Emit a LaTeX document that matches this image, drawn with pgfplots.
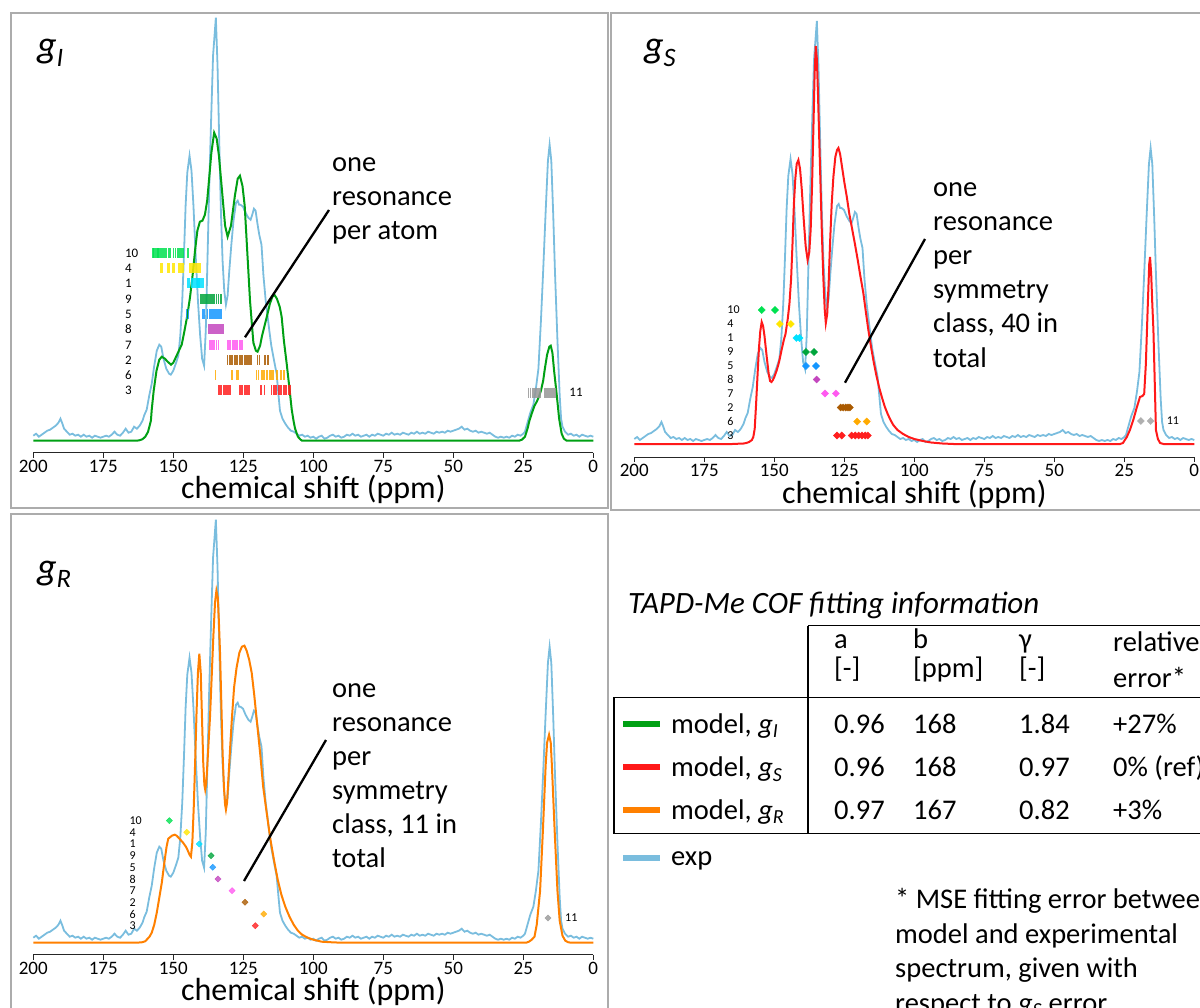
\documentclass[border=0pt]{standalone}
\usepackage{fontspec}
\setmainfont{Carlito}
\usepackage{pgfplots}
\usepackage{pgfplotstable}
\pgfplotsset{compat=1.18}
\definecolor{cexp}{RGB}{122,189,222}
\definecolor{cgI}{RGB}{0,160,20}
\definecolor{cgS}{RGB}{255,25,25}
\definecolor{cgR}{RGB}{255,128,0}
\definecolor{m10}{RGB}{0,225,80}
\definecolor{m4}{RGB}{255,230,0}
\definecolor{m1}{RGB}{0,225,255}
\definecolor{m9}{RGB}{0,165,60}
\definecolor{m5}{RGB}{20,150,255}
\definecolor{m8}{RGB}{195,70,190}
\definecolor{m7}{RGB}{255,90,240}
\definecolor{m2}{RGB}{170,90,0}
\definecolor{m6}{RGB}{255,170,0}
\definecolor{m3}{RGB}{255,30,30}
\definecolor{m11}{RGB}{150,150,150}
\definecolor{m11b}{RGB}{175,175,175}
\definecolor{framec}{RGB}{172,172,172}
\newcommand{\myfs}[2]{\fontsize{#1}{#2}\selectfont}

\pgfplotstableread{
x y
200 5
199 7
198 4
197 6
196 8
195 10
194 11
193 13
192 15
191 18
190.3 22
189.6 17
189 12
188 9
187 6
186 7
185 5
184 6
183 4
182 6
181 4
180 5
179 3
178 5
177 4
176 3
175 4
174 5
173 4
172 6
171 9
170 6
169 5
168 8
167 12
166 8
165 9
164 14
163 12
162 15
161 20
160.3 26
159.5 31
158.6 45
157.7 57
156.8 75
155.9 90
155 96
154.3 94
153.5 82
152.5 72
151.5 67
150.9 66
150 70
149 78
148.2 85
147.5 105
146.8 140
146.2 185
145.6 235
145 268
144.2 285
143.5 270
142.8 235
142 185
141.2 140
140.4 105
139.7 82
139 75
138.4 110
137.8 180
137.2 250
136.5 320
135.8 385
134.8 423
134.2 375
133.6 300
133 230
132.4 180
131.8 150
131.2 136
130.6 145
130 170
129.3 195
128.5 220
127.6 238
127 240
126.5 236
126 236
125.1 234
124.2 228
123.2 223
122.4 221
121.8 226
121.2 232
120.6 230
120 218
119.3 206
118.5 196
117.8 165
117 140
116.3 124
115.7 110
115 95
114 80
113.1 67
112.4 45
111.9 30
111 22
110 17
109 13
108 10
107 9
106 7
105 5
104 6
103 4
102 5
101 3
100 4
99 2
98 4
97 5
96 2
95 3
94 5
93 6
92 4
91 5
90 3
89 4
88 6
87 5
86 7
85 5
84 6
83 4
82 5
81 6
80 4
79 6
78 5
77 7
76 6
75 5
74 7
73 6
72 8
71 6
70 7
69 6
68 8
67 7
66 6
65 8
64 7
63 9
62 7
61 8
60 7
59 9
58 8
57 7
56 9
55 8
54 9
53 8
52 10
51 9
50 10
49 11
48 12
47 14
46 11
45 12
44 10
43 9
42 10
41 8
40 9
39 8
38 7
37 8
36 6
35 4
34 3
33 4
32 3
31 4
30 3
29 5
28 4
27 6
26 5
25 7
24.4 9
23.5 18
22.5 28
21.4 36
20.5 52
19.6 72
18.7 120
17.9 170
17 230
16.2 280
15.6 296
15 280
14.3 225
13.7 170
12.8 100
12 45
11.5 22
11 14
10.1 9
9 6
8 7
7 5
6 6
5 4
4 6
3 5
2 4
1 5
0 4
}\expdata

\pgfplotstableread{
x y
200 0
163 0
162 0.5
161 1.5
160 4
159 9
158 20
157.7 31
157 50
156 70
155 81
154.1 84
153 82
152 79
150.8 76
150 78
149 84
148 90
147 96
146 110
145 125
144 144
143 168
142.2 191
141.4 210
140.5 219
139.6 220
138.7 226
137.9 240
137.2 262
136.4 288
135.4 308
134.5 302
133.7 285
132.6 250
131.5 215
130.6 204
129.4 215
128 245
127 262
126.2 265
125.3 255
124.5 235
123.8 200
122.6 140
121.4 98
120.5 90
119.9 89
119 95
118.3 105
117.4 115
116.6 124
115.5 137
114.6 144
113.9 146
113 142
112 134
111.3 124
110.5 100
109.5 77
108.5 52
107.7 31
107 19
106.5 12
105.5 4
104.5 1
104 0
26.5 0
25.5 1
24.4 4
23.5 12
22.8 20
22 27
21 35
20.2 39
19.4 44
18.7 50
17.9 60
17.3 72
16.5 86
15.7 94
15.2 95
14.6 88
14 70
13.1 47
12.2 22
11.3 7
10.5 2
9.5 0
0 0
}\gIdata

\pgfplotstableread{
x y
200 0
165 0
161 0.5
160 1
159 2
158 4
157.5 7
157 15
156.5 40
156 68
155.5 95
155 113
154.5 122
154 118
153.5 108
152.7 87
152 70
151.5 63
151 62
150.5 64
150 67
149.1 74
148.3 82
147.4 94
146.6 104
146 110
145.2 125
144.6 140
144 165
143.5 200
143 240
142.5 265
142 280
141.4 284
140.8 275
140.2 255
139.5 225
138.8 198
138.1 184
137.5 192
137 215
136.5 260
136 320
135.6 370
135.2 398
134.8 385
134.4 350
134 310
133.5 260
133 210
132.5 167
132 135
131.6 121
131.1 130
130.6 160
130.1 200
129.5 240
128.9 267
128.2 287
127.6 294
127.1 296
126.5 290
125.8 277
125 262
124.1 247
123.2 230
122.2 215
121.2 200
120.2 184
119.2 167
118.2 151
117.3 132
116.4 114
115.5 98
114.5 82
113.5 68
112.5 56
111.5 46
110.5 37
109.5 30
108.5 24
107.5 19
106 14
104 10
102 7
100 5
97 3
94 1.5
90 0.5
86 0
26.5 0
25.5 1
24.1 7
23 14
21.8 24
20.6 36
19.4 47
18.5 48
17.9 50
17.3 80
16.6 140
16.1 180
15.8 187
15.4 170
15 140
14.6 114
14.2 70
13.7 14
13 5
12.2 1
11 0
0 0
}\gSdata

\pgfplotstableread{
x y
200 0
163 0
161 0.5
160 1.5
159.5 3
158.5 6
157.7 10
156.8 18
155.9 30
155 45
154.1 60
153.2 80
152.4 96
151.8 104
150.5 107
149.5 108
148.8 107
147.8 104
146.5 100
145.5 96
144.8 92
144.2 88
143.7 86
143.2 100
142.7 135
142.2 180
141.7 230
141.2 270
140.7 289
140.2 270
139.8 230
139.3 180
138.9 158
138.6 153
138.2 160
137.9 175
137.4 200
136.9 225
136.3 265
135.7 306
135.1 340
134.6 352
134.1 345
133.7 320
133.3 289
132.8 235
132.4 190
131.9 155
131.5 138
131.2 133
130.8 140
130.3 165
129.7 195
129.1 223
128.3 255
127.4 275
126.4 290
125.5 296
124.6 297
123.8 292
122.9 283
122 270
121.1 248
120.2 223
119 190
117.9 156
116.6 129
115.3 103
114 82
112.7 63
111.4 48
110 36
108.5 26
107 18
105.5 12
104 8
102 5
100 3
97 1
94 0.5
90 0
24 0
23 1
22 3
21 6
20.2 18
19 52
18 112
17 178
16.5 200
15.8 208
15.2 200
14.8 178
13.8 112
12.8 52
12 22
11 7
10 2
9 0.5
8 0
0 0
}\gRdata

\pgfplotsset{
  panelax/.style={
    x=2.8pt, y=1pt, xmin=0, xmax=200, x dir=reverse,
    axis x line*=bottom, axis y line=none,
    xtick={0,25,50,75,100,125,150,175,200}, tick align=outside, major tick length=5pt,
    tick style={black!85, line width=1pt},
    axis line style={black!85, line width=1pt},
    xticklabel style={font=\myfs{19}{19}, inner sep=2pt},
    /pgf/number format/assume math mode=true,
    clip=false, anchor=south west, scale only axis},
  bars/.style={only marks, mark=|, mark size=5pt, mark options={line width=1.5pt, opacity=0.85}},
  dia/.style={only marks, mark=square*, mark size=2.5pt, mark options={rotate=45}},
  dib/.style={only marks, mark=square*, mark size=2.2pt, mark options={rotate=45, opacity=0.8}},
}

\begin{document}
\begin{tikzpicture}
\useasboundingbox (0pt,0pt) rectangle (1200pt,-1008pt);
\draw[framec, line width=2pt] (11pt,-13pt) rectangle (608pt,-508pt);
\draw[framec, line width=2pt] (611pt,-13pt) rectangle (1215pt,-510pt);
\draw[framec, line width=2pt] (11pt,-514pt) rectangle (608pt,-1020pt);

% ---------------- g_I panel
\begin{axis}[panelax, at={(33.3pt,-452.7pt)}, ymin=-12, ymax=428]
\addplot[cexp, line width=1.8pt] table {\expdata};
\addplot[cgI, line width=2pt] table {\gIdata};
\addplot[bars, m10] coordinates {(157.3,187.4)(156.9,187.4)(156.4,187.4)(155.9,187.4)(155.5,187.4)(155.1,187.4)(154.6,187.4)(154.0,187.4)(153.5,187.4)(152.9,187.4)(152.4,187.4)(151.8,187.4)(151.2,187.4)(150.0,187.4)(149.2,187.4)(148.4,187.4)(147.6,187.4)(146.9,187.4)(146.3,187.4)(145.0,187.4)(144.5,187.4)};
\addplot[bars, m4] coordinates {(154.4,172.4)(153.9,172.4)(152.0,172.4)(151.5,172.4)(150.3,172.4)(149.8,172.4)(148.1,172.4)(147.6,172.4)(147.1,172.4)(146.6,172.4)(144.0,172.4)(143.5,172.4)(143.0,172.4)(142.5,172.4)(142.0,172.4)(141.5,172.4)(141.0,172.4)(140.5,172.4)};
\addplot[bars, m1] coordinates {(145.0,157.4)(144.4,157.4)(143.5,157.4)(143.0,157.4)(142.5,157.4)(142.0,157.4)(141.6,157.4)(141.2,157.4)(140.8,157.4)(140.4,157.4)(140.0,157.4)(139.6,157.4)(139.3,157.4)};
\addplot[bars, m9] coordinates {(140.2,141.7)(139.7,141.7)(139.2,141.7)(138.7,141.7)(138.2,141.7)(137.7,141.7)(137.2,141.7)(136.7,141.7)(136.2,141.7)(135.7,141.7)(135.2,141.7)(134.5,141.7)(133.8,141.7)(133.2,141.7)(132.7,141.7)};
\addplot[bars, m5] coordinates {(145.2,126.7)(144.6,126.7)(139.5,126.7)(139.0,126.7)(137.7,126.7)(137.1,126.7)(136.5,126.7)(135.9,126.7)(135.3,126.7)(134.7,126.7)(134.1,126.7)(133.5,126.7)(132.9,126.7)};
\addplot[bars, m8] coordinates {(137.5,111.4)(137.0,111.4)(136.5,111.4)(136.0,111.4)(135.5,111.4)(135.0,111.4)(134.5,111.4)(134.0,111.4)(133.5,111.4)(133.0,111.4)(132.5,111.4)(132.0,111.4)};
\addplot[bars, m7] coordinates {(136.9,95.7)(136.2,95.7)(135.4,95.7)(134.6,95.7)(133.9,95.7)(130.7,95.7)(130.1,95.7)(129.5,95.7)(128.9,95.7)(128.3,95.7)(127.6,95.7)(127.0,95.7)(126.4,95.7)(125.8,95.7)(125.2,95.7)};
\addplot[bars, m2] coordinates {(130.6,80.7)(130.0,80.7)(129.4,80.7)(128.8,80.7)(128.2,80.7)(127.6,80.7)(127.0,80.7)(126.4,80.7)(125.8,80.7)(125.2,80.7)(124.6,80.7)(124.0,80.7)(123.4,80.7)(122.8,80.7)(122.2,80.7)(120.0,80.7)(119.2,80.7)(117.2,80.7)(116.1,80.7)};
\addplot[bars, m6] coordinates {(135.0,65.7)(129.0,65.7)(127.3,65.7)(126.7,65.7)(120.2,65.7)(119.6,65.7)(118.4,65.7)(117.6,65.7)(116.6,65.7)(115.4,65.7)(114.8,65.7)(114.2,65.7)(113.0,65.7)(111.6,65.7)(110.4,65.7)};
\addplot[bars, m3] coordinates {(133.9,50.7)(133.3,50.7)(132.7,50.7)(132.1,50.7)(131.5,50.7)(130.9,50.7)(130.3,50.7)(129.7,50.7)(126.4,50.7)(125.8,50.7)(125.2,50.7)(124.6,50.7)(124.0,50.7)(123.4,50.7)(122.8,50.7)(118.7,50.7)(117.4,50.7)(114.9,50.7)(114.3,50.7)(113.7,50.7)(113.1,50.7)(112.5,50.7)(111.9,50.7)(111.3,50.7)(110.7,50.7)(110.1,50.7)(109.5,50.7)(108.9,50.7)(108.3,50.7)};
\addplot[bars, m11] coordinates {(23.2,48)(22.5,48)(21.8,48)(21.1,48)(20.4,48)(19.7,48)(19.0,48)(17.3,48)(16.6,48)(16.0,48)(15.4,48)(14.8,48)(14.2,48)(13.7,48)};
\node[anchor=west, inner sep=0pt, font=\myfs{13}{13}] at (axis cs:167.3,187.4) {10};
\node[anchor=west, inner sep=0pt, font=\myfs{13}{13}] at (axis cs:167.3,172.4) {4};
\node[anchor=west, inner sep=0pt, font=\myfs{13}{13}] at (axis cs:167.3,157.4) {1};
\node[anchor=west, inner sep=0pt, font=\myfs{13}{13}] at (axis cs:167.3,141.7) {9};
\node[anchor=west, inner sep=0pt, font=\myfs{13}{13}] at (axis cs:167.3,126.7) {5};
\node[anchor=west, inner sep=0pt, font=\myfs{13}{13}] at (axis cs:167.3,111.4) {8};
\node[anchor=west, inner sep=0pt, font=\myfs{13}{13}] at (axis cs:167.3,95.7) {7};
\node[anchor=west, inner sep=0pt, font=\myfs{13}{13}] at (axis cs:167.3,80.7) {2};
\node[anchor=west, inner sep=0pt, font=\myfs{13}{13}] at (axis cs:167.3,65.7) {6};
\node[anchor=west, inner sep=0pt, font=\myfs{13}{13}] at (axis cs:167.3,50.7) {3};
\node[anchor=west, inner sep=0pt, font=\myfs{13}{13}] at (axis cs:8.6,48) {11};
\node[font=\myfs{32}{32}, yshift=-37pt] at (rel axis cs:0.5,0) {chemical shift (ppm)};
\end{axis}

% ---------------- g_S panel
\begin{axis}[panelax, at={(634.3pt,-457pt)}, ymin=-13, ymax=431]
\addplot[cexp, line width=1.8pt] table {\expdata};
\addplot[cgS, line width=2pt] table {\gSdata};
\addplot[dia, m10] coordinates {(154.5,134)(149.75,134)};
\addplot[dia, m4] coordinates {(148.0,120)(144.1,120)};
\addplot[dia, m1] coordinates {(142.1,106)(141.0,106)};
\addplot[dia, m9] coordinates {(138.7,92)(135.8,92)};
\addplot[dia, m5] coordinates {(138.7,78)(135.1,78)};
\addplot[dia, m8] coordinates {(134.9,64.5)};
\addplot[dia, m7] coordinates {(131.9,50.5)(128.0,50.5)};
\addplot[dia, m2] coordinates {(126.3,36.5)(125.4,36.5)(124.5,36.5)(123.7,36.5)(123.0,36.5)};
\addplot[dia, m6] coordinates {(120.4,22.5)(117.0,22.5)};
\addplot[dia, m3] coordinates {(127.6,8.5)(125.9,8.5)(122.4,8.5)(121.1,8.5)(119.9,8.5)(118.7,8.5)(117.5,8.5)(116.6,8.5)};
\addplot[dia, m11b] coordinates {(19.1,23)(15.6,23)};
\node[anchor=west, inner sep=0pt, font=\myfs{12}{12}] at (axis cs:166.8,134) {10};
\node[anchor=west, inner sep=0pt, font=\myfs{12}{12}] at (axis cs:166.8,120) {4};
\node[anchor=west, inner sep=0pt, font=\myfs{12}{12}] at (axis cs:166.8,106) {1};
\node[anchor=west, inner sep=0pt, font=\myfs{12}{12}] at (axis cs:166.8,92) {9};
\node[anchor=west, inner sep=0pt, font=\myfs{12}{12}] at (axis cs:166.8,78) {5};
\node[anchor=west, inner sep=0pt, font=\myfs{12}{12}] at (axis cs:166.8,64.5) {8};
\node[anchor=west, inner sep=0pt, font=\myfs{12}{12}] at (axis cs:166.8,50.5) {7};
\node[anchor=west, inner sep=0pt, font=\myfs{12}{12}] at (axis cs:166.8,36.5) {2};
\node[anchor=west, inner sep=0pt, font=\myfs{12}{12}] at (axis cs:166.8,22.5) {6};
\node[anchor=west, inner sep=0pt, font=\myfs{12}{12}] at (axis cs:166.8,8.5) {3};
\node[anchor=west, inner sep=0pt, font=\myfs{12}{12}] at (axis cs:9.9,23) {11};
\node[font=\myfs{32}{32}, yshift=-37pt] at (rel axis cs:0.5,0) {chemical shift (ppm)};
\end{axis}

% ---------------- g_R panel
\begin{axis}[panelax, at={(33.3pt,-954.7pt)}, ymin=-12, ymax=428]
\addplot[cexp, line width=1.8pt] table {\expdata};
\addplot[cgR, line width=2pt] table {\gRdata};
\addplot[dib, m10] coordinates {(151.4,122)};
\addplot[dib, m4] coordinates {(145.2,110.4)};
\addplot[dib, m1] coordinates {(140.7,98.7)};
\addplot[dib, m9] coordinates {(136.5,87)};
\addplot[dib, m5] coordinates {(135.9,75.4)};
\addplot[dib, m8] coordinates {(134.0,63.7)};
\addplot[dib, m7] coordinates {(129.0,52)};
\addplot[dib, m2] coordinates {(124.4,40.4)};
\addplot[dib, m6] coordinates {(117.7,28.7)};
\addplot[dib, m3] coordinates {(120.7,17)};
\addplot[dib, m11] coordinates {(16.2,24.7)};
\node[anchor=west, inner sep=0pt, font=\myfs{12}{12}] at (axis cs:165.7,122) {10};
\node[anchor=west, inner sep=0pt, font=\myfs{12}{12}] at (axis cs:165.7,110.4) {4};
\node[anchor=west, inner sep=0pt, font=\myfs{12}{12}] at (axis cs:165.7,98.7) {1};
\node[anchor=west, inner sep=0pt, font=\myfs{12}{12}] at (axis cs:165.7,87) {9};
\node[anchor=west, inner sep=0pt, font=\myfs{12}{12}] at (axis cs:165.7,75.4) {5};
\node[anchor=west, inner sep=0pt, font=\myfs{12}{12}] at (axis cs:165.7,63.7) {8};
\node[anchor=west, inner sep=0pt, font=\myfs{12}{12}] at (axis cs:165.7,52) {7};
\node[anchor=west, inner sep=0pt, font=\myfs{12}{12}] at (axis cs:165.7,40.4) {2};
\node[anchor=west, inner sep=0pt, font=\myfs{12}{12}] at (axis cs:165.7,28.7) {6};
\node[anchor=west, inner sep=0pt, font=\myfs{12}{12}] at (axis cs:165.7,17) {3};
\node[anchor=west, inner sep=0pt, font=\myfs{12}{12}] at (axis cs:10.1,24.7) {11};
\node[font=\myfs{32}{32}, yshift=-37pt] at (rel axis cs:0.5,0) {chemical shift (ppm)};
\end{axis}

% panel titles
\node[anchor=base west, inner sep=0pt, font=\myfs{38}{38}\itshape] at (37pt,-58pt) {g\textsubscript{I}};
\node[anchor=base west, inner sep=0pt, font=\myfs{38}{38}\itshape] at (644pt,-58pt) {g\textsubscript{S}};
\node[anchor=base west, inner sep=0pt, font=\myfs{38}{38}\itshape] at (37pt,-579pt) {g\textsubscript{R}};

% annotations
\draw[black, line width=2.3pt] (245pt,-337.3pt) -- (329pt,-210pt);
\draw[black, line width=2.3pt] (845pt,-382.7pt) -- (925pt,-239pt);
\draw[black, line width=2.3pt] (244pt,-881pt) -- (326pt,-740pt);
\begin{scope}[every node/.style={anchor=base west, inner sep=0pt, font=\myfs{28.5}{34}}]
\node at (332pt,-172pt) {one};
\node at (332pt,-206pt) {resonance};
\node at (332pt,-240pt) {per atom};
\node at (933pt,-197pt) {one};
\node at (933pt,-231pt) {resonance};
\node at (933pt,-265pt) {per};
\node at (933pt,-299pt) {symmetry};
\node at (933pt,-333pt) {class, 40 in};
\node at (933pt,-367pt) {total};
\node at (332pt,-697pt) {one};
\node at (332pt,-731pt) {resonance};
\node at (332pt,-765pt) {per};
\node at (332pt,-799pt) {symmetry};
\node at (332pt,-833pt) {class, 11 in};
\node at (332pt,-867pt) {total};
\node[font=\myfs{31}{31}\itshape] at (628pt,-613pt) {TAPD-Me COF fitting information};
\node at (834pt,-648pt) {a};
\node at (834pt,-677pt) {[-]};
\node at (913pt,-648pt) {b};
\node at (913pt,-677pt) {[ppm]};
\node at (1019pt,-648pt) {γ};
\node at (1019pt,-677pt) {[-]};
\node at (1113pt,-651pt) {relative};
\node at (1113pt,-687pt) {error*};
\node at (671pt,-733pt) {model, {\itshape g}\textsubscript{\itshape I}};
\node at (671pt,-776.7pt) {model, {\itshape g}\textsubscript{\itshape S}};
\node at (671pt,-819.3pt) {model, {\itshape g}\textsubscript{\itshape R}};
\node at (834pt,-733pt) {0.96};
\node at (913pt,-733pt) {168};
\node at (1019pt,-733pt) {1.84};
\node at (1113pt,-733pt) {+27\%};
\node at (834pt,-776.7pt) {0.96};
\node at (913pt,-776.7pt) {168};
\node at (1019pt,-776.7pt) {0.97};
\node at (1113pt,-776.7pt) {0\% (ref)};
\node at (834pt,-819.3pt) {0.97};
\node at (913pt,-819.3pt) {167};
\node at (1019pt,-819.3pt) {0.82};
\node at (1113pt,-819.3pt) {+3\%};
\node at (671pt,-865pt) {exp};
\node at (895pt,-908pt) {* MSE fitting error between};
\node at (895pt,-943pt) {model and experimental};
\node at (895pt,-977pt) {spectrum, given with};
\node at (895pt,-1012pt) {respect to {\itshape g}\textsubscript{\itshape S} error};
\end{scope}
\draw[line width=1.5pt] (808pt,-625.7pt) -- (1210pt,-625.7pt);
\draw[line width=1.5pt] (808pt,-625.7pt) -- (808pt,-833.3pt);
\draw[line width=1.5pt] (614pt,-697.3pt) -- (1210pt,-697.3pt);
\draw[line width=1.5pt] (614pt,-697.3pt) -- (614pt,-833.3pt) -- (1210pt,-833.3pt);
\draw[cgI, line width=6pt] (623pt,-724.3pt) -- (660pt,-724.3pt);
\draw[cgS, line width=6pt] (623pt,-767.3pt) -- (660pt,-767.3pt);
\draw[cgR, line width=6pt] (623pt,-810pt) -- (660pt,-810pt);
\draw[cexp, line width=6pt] (623pt,-858.3pt) -- (660pt,-858.3pt);
\end{tikzpicture}
\end{document}
